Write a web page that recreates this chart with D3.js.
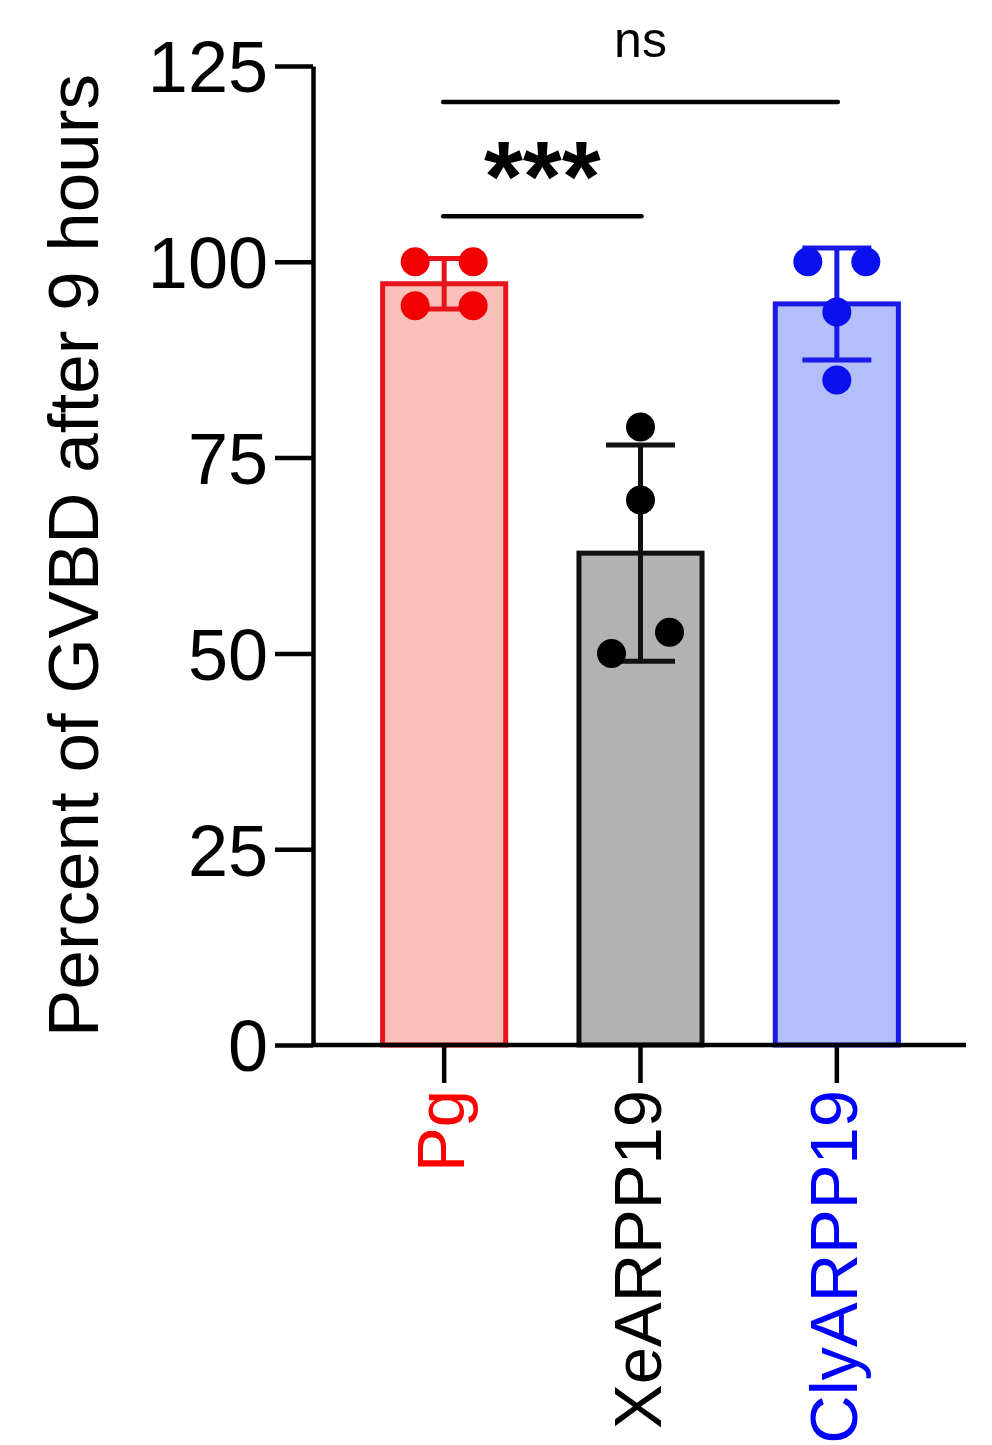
<!DOCTYPE html>
<html>
<head>
<meta charset="utf-8">
<script src="https://cdn.jsdelivr.net/npm/d3@7"></script>
<style>
  body { margin: 0; background: #fff; }
  svg { display: block; font-family: "Liberation Sans", Arial, sans-serif; }
</style>
</head>
<body>
<div id="viz"></div>
<script>
// categories and replicate values (percent GVBD after 9 h)
const categories = ['Pg', 'XeARPP19', 'ClyARPP19'];
const replicates = [
  [100, 100, 94.4, 94.4],
  [78.9, 69.6, 52.7, 50.0],
  [100, 100, 93.6, 84.9],
];
const yTicks = [0, 25, 50, 75, 100, 125];
// significance comparisons: [from, to, label, height in data units]
const comparisons = [
  ['Pg', 'ClyARPP19', 'ns', 120.4],
  ['Pg', 'XeARPP19', '***', 105.8],
];

const fills = ['#fcc0bb', '#b2b2b2', '#b3befa'];
const strokes = ['#e8141b', '#111111', '#1a1ae6'];
const dotColors = ['#f00000', '#000000', '#0a10ee'];
const labelColors = ['#ff0000', '#000000', '#0000ff'];

const width = 992;
const height = 1445;

const svg = d3.select('#viz')
  .append('svg')
  .attr('width', width)
  .attr('height', height);

const y = d3.scaleLinear()
  .domain([0, 125])
  .range([1045, 66]);

const x = d3.scaleBand()
  .domain(categories)
  .range([346, 935]);

const axisX0 = 313;
const axisX1 = 966;
const barW = x.bandwidth() * 0.627;
const r = 14.5;
const spread = 58;

const data = categories.map((c, i) => ({
  cat: c,
  values: replicates[i],
  mean: d3.mean(replicates[i]),
  sd: d3.deviation(replicates[i]),
  i,
}));

// y axis
const yAxis = d3.axisLeft(y)
  .tickValues(yTicks)
  .tickSize(38)
  .tickSizeOuter(0)
  .tickPadding(7);

const gy = svg.append('g')
  .attr('transform', `translate(${axisX0},0)`)
  .call(yAxis);
gy.select('.domain').attr('stroke', '#000').attr('stroke-width', 4.5);
gy.selectAll('.tick line').attr('stroke', '#000').attr('stroke-width', 4.5);
gy.selectAll('.tick text')
  .attr('font-size', 72)
  .attr('font-family', '"Liberation Sans", Arial, sans-serif')
  .attr('fill', '#000')
  .attr('dy', '0.36em');

// bars
svg.selectAll('.bar')
  .data(data)
  .enter()
  .append('rect')
  .attr('class', 'bar')
  .attr('x', d => x(d.cat) + x.bandwidth() / 2 - barW / 2)
  .attr('y', d => y(d.mean))
  .attr('width', barW)
  .attr('height', d => y(0) - y(d.mean))
  .attr('fill', d => fills[d.i])
  .attr('stroke', d => strokes[d.i])
  .attr('stroke-width', 5);

// x axis
svg.append('line')
  .attr('x1', axisX0 - 2)
  .attr('x2', axisX1)
  .attr('y1', y(0))
  .attr('y2', y(0))
  .attr('stroke', '#000')
  .attr('stroke-width', 4.5);

const xAxis = d3.axisBottom(x)
  .tickSize(38)
  .tickSizeOuter(0)
  .tickPadding(0);

const gx = svg.append('g')
  .attr('transform', `translate(0,${y(0)})`)
  .call(xAxis);
gx.select('.domain').remove();
gx.selectAll('.tick line').attr('stroke', '#000').attr('stroke-width', 4.5);
gx.selectAll('.tick text')
  .attr('font-size', 67)
  .attr('font-family', '"Liberation Sans", Arial, sans-serif')
  .attr('text-anchor', 'end')
  .attr('transform', 'rotate(-90)')
  .attr('x', -45)
  .attr('y', 0)
  .attr('dy', '0.3em')
  .attr('fill', (d, i) => labelColors[i]);

// error bars (mean ± SD)
const capW = 69;
const eb = svg.selectAll('.errbar')
  .data(data)
  .enter()
  .append('g')
  .attr('class', 'errbar')
  .attr('stroke', d => strokes[d.i])
  .attr('stroke-width', 5);
eb.append('line')
  .attr('x1', d => x(d.cat) + x.bandwidth() / 2)
  .attr('x2', d => x(d.cat) + x.bandwidth() / 2)
  .attr('y1', d => y(d.mean + d.sd))
  .attr('y2', d => y(d.mean - d.sd));
eb.selectAll('.cap')
  .data(d => [d.mean + d.sd, d.mean - d.sd].map(v => ({ v, d })))
  .enter()
  .append('line')
  .attr('x1', o => x(o.d.cat) + x.bandwidth() / 2 - capW / 2)
  .attr('x2', o => x(o.d.cat) + x.bandwidth() / 2 + capW / 2)
  .attr('y1', o => y(o.v))
  .attr('y2', o => y(o.v));

// scatter dots: points closer than a dot diameter get spread sideways
function swarm(d) {
  const sorted = d.values.slice().sort((a, b) => b - a);
  const groups = [];
  sorted.forEach(v => {
    const last = groups[groups.length - 1];
    if (last && Math.abs(y(v) - y(last[last.length - 1])) < 2 * r) last.push(v);
    else groups.push([v]);
  });
  const out = [];
  const cx = x(d.cat) + x.bandwidth() / 2;
  groups.forEach(g => {
    g.forEach((v, k) => {
      out.push({ cx: cx + ((g.length - 1) / 2 - k) * spread, v, i: d.i });
    });
  });
  return out;
}

svg.selectAll('.dots')
  .data(data)
  .enter()
  .append('g')
  .attr('class', 'dots')
  .selectAll('circle')
  .data(d => swarm(d))
  .enter()
  .append('circle')
  .attr('cx', p => p.cx)
  .attr('cy', p => y(p.v))
  .attr('r', r)
  .attr('fill', p => dotColors[p.i]);

// significance brackets
const center = c => x(c) + x.bandwidth() / 2;
const sig = svg.selectAll('.sig')
  .data(comparisons)
  .enter()
  .append('g')
  .attr('class', 'sig');
sig.append('line')
  .attr('x1', d => center(d[0]) - 1)
  .attr('x2', d => center(d[1]) + 1)
  .attr('y1', d => y(d[3]))
  .attr('y2', d => y(d[3]))
  .attr('stroke', '#000')
  .attr('stroke-width', 4.5)
  .attr('stroke-linecap', 'round');
sig.append('text')
  .attr('x', d => (center(d[0]) + center(d[1])) / 2)
  .attr('y', d => d[2] === 'ns' ? y(d[3]) - 45 : y(d[3]) - 5)
  .attr('text-anchor', 'middle')
  .attr('font-size', d => d[2] === 'ns' ? 50 : 100)
  .attr('font-weight', d => d[2] === 'ns' ? 'normal' : 'bold')
  .attr('fill', '#000')
  .text(d => d[2]);

// y axis title
svg.append('text')
  .attr('transform', `translate(98,${(y(0) + y(125)) / 2}) rotate(-90)`)
  .attr('text-anchor', 'middle')
  .attr('font-size', 71)
  .attr('fill', '#000')
  .text('Percent of GVBD after 9 hours');
</script>
</body>
</html>
